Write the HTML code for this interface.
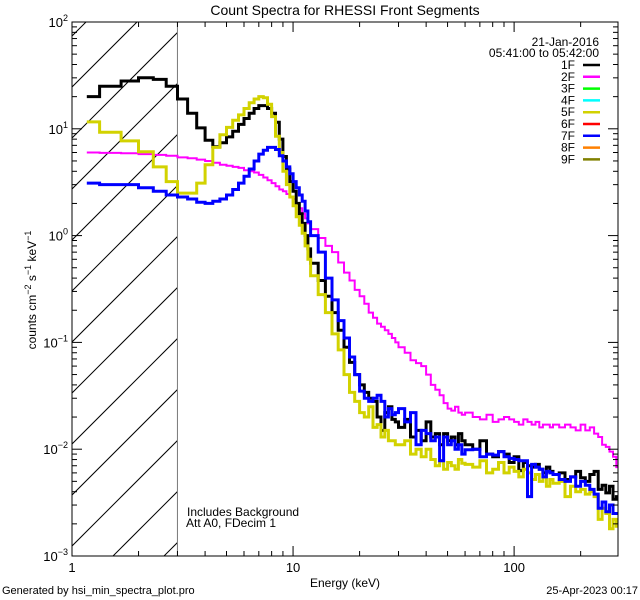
<!DOCTYPE html>
<html><head><meta charset="utf-8">
<style>
html,body{margin:0;padding:0;background:#fff;}
svg{display:block;font-family:"Liberation Sans",sans-serif;}
</style></head>
<body>
<svg id="chart" width="640" height="600" viewBox="0 0 640 600" xmlns="http://www.w3.org/2000/svg">
<rect x="0" y="0" width="640" height="600" fill="#fff"/>
<text x="345" y="15" font-size="14" text-anchor="middle">Count Spectra for RHESSI Front Segments</text>
<g id="hatch"></g>
<g id="series"></g>
<g id="axes"></g>
<g id="legend"></g>
<text x="187" y="516" font-size="12">Includes Background</text>
<text x="186" y="527" font-size="12">Att A0, FDecim 1</text>
<text x="345" y="587" font-size="12" text-anchor="middle">Energy (keV)</text>
<text transform="translate(36,290) rotate(-90)" font-size="12" text-anchor="middle">counts cm<tspan font-size="9" dy="-5">−2</tspan><tspan dy="5"> s</tspan><tspan font-size="9" dy="-5">−1</tspan><tspan dy="5"> keV</tspan><tspan font-size="9" dy="-5">−1</tspan></text>
<text x="2" y="594" font-size="11">Generated by hsi_min_spectra_plot.pro</text>
<text x="638" y="594" font-size="11" text-anchor="end">25-Apr-2023 00:17</text>
</svg>
<script>
const energyLo = [1.167,1.333,1.667,2,2.333,2.667,3,3.333,3.667,4,4.333,4.667,5,5.333,5.667,6,6.333,6.667,7,7.333,7.667,8,8.333,8.667,9,9.333,9.667,10,10.333,10.667,11,11.333,11.667,
12,13,14,15,16,17,18,19,20,21,22,23,24,25,26,27,28,29,
30,32,34,36,38,40,42,44,46,48,50,52,54,56,58,
60,65,70,75,80,85,90,95,100,105,110,115,120,125,130,135,140,145,
150,160,170,180,190,200,210,220,230,240,250,260,270,280,290];
const energyHi = 300;
const seg1F = [20,25,28,30,29,25,19,14,10.2,7.8,6.8,7.4,8.4,9.5,11,12.5,14,15.5,16.5,16.5,15.5,14,11.5,8,5.5,4.2,3.2,2.6,2.0,1.6,1.3,1.0,0.75,
0.55,0.38,0.27,0.19,0.13,0.09,0.065,0.05,0.04,0.034,0.03,0.028,0.02,0.015,0.022,0.025,0.019,0.018,
0.016,0.019,0.013,0.015,0.012,0.018,0.013,0.014,0.011,0.014,0.012,0.013,0.011,0.014,0.012,
0.011,0.010,0.012,0.009,0.0085,0.0095,0.009,0.0075,0.0085,0.0063,0.0075,0.007,0.0068,0.0072,0.0065,0.006,0.0068,0.0062,
0.0058,0.006,0.0052,0.0055,0.0062,0.0054,0.005,0.0058,0.0062,0.0042,0.0046,0.0039,0.0045,0.0034,0.0036];
const seg2F = [6.0,5.95,5.9,5.8,5.7,5.6,5.4,5.3,5.15,5.0,4.8,4.6,4.5,4.4,4.3,4.1,4.0,3.9,3.7,3.5,3.3,3.1,2.9,2.7,2.6,2.45,2.3,2.2,2.0,1.8,1.6,1.45,1.3,
1.15,0.95,0.8,0.7,0.56,0.45,0.38,0.31,0.27,0.23,0.19,0.17,0.15,0.14,0.13,0.12,0.11,0.1,
0.09,0.08,0.068,0.064,0.06,0.05,0.04,0.036,0.032,0.027,0.024,0.023,0.025,0.022,0.021,
0.022,0.02,0.019,0.021,0.018,0.019,0.02,0.019,0.018,0.017,0.019,0.018,0.017,0.018,0.016,0.017,0.017,0.016,
0.017,0.016,0.017,0.016,0.015,0.017,0.015,0.016,0.014,0.013,0.011,0.0105,0.0095,0.0085,0.0068];
const seg5F = [11.6,9.3,7.7,6.1,4.4,3.2,2.5,2.5,3.1,4.6,6.7,8.8,10.3,12,13.5,15.5,17.5,19,20,19.5,17,13,8.5,6,4,3,2.3,1.9,1.5,1.25,1.05,0.8,0.6,
0.42,0.28,0.19,0.12,0.085,0.05,0.034,0.028,0.022,0.02,0.025,0.016,0.017,0.013,0.015,0.012,0.012,0.011,
0.011,0.012,0.009,0.01,0.0085,0.01,0.008,0.007,0.0078,0.0065,0.0075,0.007,0.0065,0.008,0.0074,
0.0072,0.0068,0.0078,0.006,0.0065,0.0075,0.006,0.0068,0.0062,0.0055,0.0065,0.006,0.0052,0.0058,0.005,0.0055,0.0045,0.0052,
0.0048,0.005,0.0036,0.0045,0.004,0.0042,0.0038,0.004,0.0036,0.0022,0.0028,0.0025,0.0018,0.0022,0.0019];
const seg7F = [3.1,3.0,3.0,2.8,2.6,2.4,2.3,2.2,2.05,2.0,2.1,2.2,2.4,2.7,3.1,3.6,4.2,5.0,5.8,6.3,6.7,6.7,6.4,5.6,5.0,4.4,3.8,3.2,2.8,2.4,2.1,1.7,1.35,
1.0,0.7,0.4,0.25,0.16,0.11,0.073,0.05,0.035,0.03,0.028,0.03,0.032,0.028,0.02,0.024,0.021,0.022,
0.024,0.018,0.022,0.011,0.015,0.014,0.012,0.013,0.0078,0.013,0.011,0.012,0.01,0.011,0.009,
0.0099,0.01,0.0085,0.009,0.0088,0.0095,0.0085,0.0082,0.008,0.0078,0.0078,0.0036,0.0072,0.0068,0.0065,0.0055,0.0062,0.006,
0.0058,0.0052,0.005,0.0055,0.0045,0.005,0.0046,0.0042,0.0038,0.0028,0.0032,0.0026,0.003,0.0025,0.0025];
const legendLabels = ["1F","2F","3F","4F","5F","6F","7F","8F","9F"];
const legendColors = ["#000000","#ff00ff","#00ff00","#00ffff","#d2d200","#ff0000","#0000ff","#ff8000","#808000"];
const xTickLabels = [1,10,100];
const yTickExps = [-3,-2,-1,0,1,2];

const NS="http://www.w3.org/2000/svg";
const L=72,R=618,T=22,B=556;
const XMIN=1,XMAX=Math.pow(10,2.47),YMIN=1e-3,YMAX=1e2;
function xs(e){return L+(Math.log10(e)-Math.log10(XMIN))/(Math.log10(XMAX)-Math.log10(XMIN))*(R-L);}
function ys(v){return B-(Math.log10(v)-Math.log10(YMIN))/(Math.log10(YMAX)-Math.log10(YMIN))*(B-T);}
function mk(tag,attrs,parent){const el=document.createElementNS(NS,tag);for(const k in attrs)el.setAttribute(k,attrs[k]);parent.appendChild(el);return el;}

// hatch
const defs=mk('defs',{},document.getElementById('chart'));
const cp=mk('clipPath',{id:'hclip'},defs);
mk('rect',{x:L,y:T,width:xs(3)-L,height:B-T},cp);
const plotClip=mk('clipPath',{id:'pclip'},defs);
mk('rect',{x:L,y:T,width:R-L,height:B-T},plotClip);
const hatch=document.getElementById('hatch');
hatch.setAttribute('clip-path','url(#hclip)');
for(let c=159-51*4;c<800;c+=51){
  const ln=mk('line',{x1:c-600,y1:600,x2:c,y2:0,stroke:'#000','stroke-width':1},hatch);
  
  
}
const vl=mk('line',{x1:xs(3),y1:T,x2:xs(3),y2:B,stroke:'#000','stroke-width':1},hatch);



// series
const sg=document.getElementById('series');
sg.setAttribute('clip-path','url(#pclip)');
function drawSeries(vals,color,w,name){
  let d='';
  for(let i=0;i<vals.length;i++){
    const x0=xs(energyLo[i]);
    const x1=xs(i+1<energyLo.length?energyLo[i+1]:energyHi);
    const y=ys(vals[i]);
    d+=(i===0?'M':'L')+x0.toFixed(1)+','+y.toFixed(1)+'L'+x1.toFixed(1)+','+y.toFixed(1);
  }
  const p=mk('path',{d:d,fill:'none',stroke:color,'stroke-width':w,'stroke-linejoin':'miter'},sg);
  
  
}
drawSeries(seg2F,'#ff00ff',2,'series-2f');
drawSeries(seg1F,'#000000',3,'series-1f');
drawSeries(seg5F,'#d2d200',3,'series-5f');
drawSeries(seg7F,'#0000ff',3,'series-7f');

// axes
const ax=document.getElementById('axes');
const frame=mk('rect',{x:L,y:T,width:R-L,height:B-T,fill:'none',stroke:'#000','stroke-width':1},ax);


for(let dec=0;dec<=2;dec++){
  for(let m=1;m<=9;m++){
    const e=m*Math.pow(10,dec);
    if(e>XMAX)break;
    const x=xs(e),len=m===1?10:5;
    mk('line',{x1:x,y1:B,x2:x,y2:B-len,stroke:'#000'},ax);
    mk('line',{x1:x,y1:T,x2:x,y2:T+len,stroke:'#000'},ax);
  }
}
xTickLabels.forEach(v=>{
  const t=mk('text',{x:xs(v),y:572,'font-size':13,'text-anchor':'middle'},ax);
  t.textContent=String(v);
  
  
});
yTickExps.forEach(ex=>{
  for(let m=1;m<=9;m++){
    const v=m*Math.pow(10,ex);
    if(v>YMAX)break;
    const y=ys(v),len=m===1?10:5;
    mk('line',{x1:L,y1:y,x2:L+len,y2:y,stroke:'#000'},ax);
    mk('line',{x1:R,y1:y,x2:R-len,y2:y,stroke:'#000'},ax);
  }
  const t=mk('text',{x:L-4,y:ys(Math.pow(10,ex))+5,'font-size':13,'text-anchor':'end'},ax);
  
  
  t.innerHTML='10<tspan font-size="9" dy="-6">'+(ex<0?'−'+(-ex):ex)+'</tspan>';
});

// legend
const lg=document.getElementById('legend');
const d1=mk('text',{x:599,y:46,'font-size':12,'text-anchor':'end'},lg);d1.textContent='21-Jan-2016';


const d2=mk('text',{x:599,y:57,'font-size':12,'text-anchor':'end'},lg);d2.textContent='05:41:00 to 05:42:00';


legendLabels.forEach((lab,i)=>{
  const y=65+i*11.8;
  const g=mk('g',{},lg);
  
  
  const t=mk('text',{x:575,y:y+4,'font-size':12,'text-anchor':'end'},g);t.textContent=lab;
  mk('line',{x1:583,y1:y,x2:600,y2:y,stroke:legendColors[i],'stroke-width':2.5},g);
});
</script>
</body></html>
